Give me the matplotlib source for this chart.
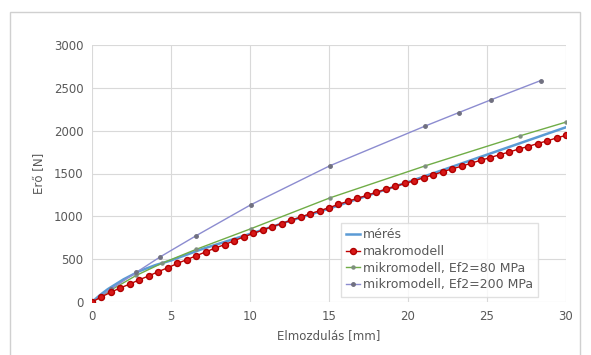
import matplotlib
matplotlib.use("Agg")
import matplotlib.pyplot as plt
from matplotlib.patches import Rectangle

# mérés
meres_x = [0, 0.5, 1, 2, 3, 4, 5, 7, 10, 12.5, 15, 17.5, 20, 22.5, 25, 27.5, 30]
meres_y = [0, 80, 150, 265, 360, 430, 485, 620, 795, 945, 1090, 1245, 1400, 1560, 1720, 1880, 2040]

# makromodell
makro_x = [0, 0.6, 1.2, 1.8, 2.4, 3.0, 3.6, 4.2, 4.8, 5.4, 6.0, 6.6, 7.2, 7.8, 8.4, 9.0, 9.6,
           10.2, 10.8, 11.4, 12.0, 12.6, 13.2, 13.8, 14.4, 15.0, 15.6, 16.2, 16.8, 17.4, 18.0,
           18.6, 19.2, 19.8, 20.4, 21.0, 21.6, 22.2, 22.8, 23.4, 24.0, 24.6, 25.2, 25.8, 26.4,
           27.0, 27.6, 28.2, 28.8, 29.4, 30.0]
makro_y = [0, 60, 115, 165, 210, 260, 305, 355, 400, 450, 495, 540, 585, 630, 670, 715, 760,
           800, 840, 880, 915, 955, 990, 1030, 1065, 1100, 1140, 1175, 1210, 1245, 1280,
           1315, 1350, 1385, 1415, 1450, 1485, 1520, 1555, 1585, 1620, 1655, 1685, 1720, 1750,
           1785, 1815, 1850, 1880, 1915, 1945]

# mikromodell, Ef2=80 MPa
mik80_x = [0, 1.2, 2.8, 4.4, 6.6, 10.05, 15.05, 21.1, 27.1, 30]
mik80_y = [0, 140, 310, 450, 615, 855, 1215, 1590, 1940, 2100]

# mikromodell, Ef2=200 MPa
mik200_x = [0, 1.2, 2.8, 4.3, 6.6, 10.05, 15.05, 21.1, 23.2, 25.25, 28.4]
mik200_y = [0, 150, 345, 525, 775, 1135, 1590, 2055, 2210, 2360, 2585]

plt.rcParams['font.family'] = ['DejaVu Sans']
fig = plt.figure(figsize=(5.91, 3.55), dpi=100)
fig.patches.append(Rectangle((10 / 591, -0.01), 570 / 591, 1 - 12 / 355 + 0.01,
                             transform=fig.transFigure, fill=False,
                             edgecolor='#D0D0D0', linewidth=1))
ax = fig.add_axes([92 / 591, 1 - 302 / 355, 474 / 591, 257 / 355])

ax.plot(meres_x, meres_y, color='#5B9BD5', lw=1.8, label='mérés', zorder=2)
ax.plot(makro_x, makro_y, color='#C00000', lw=1.0, marker='o', ms=4.3,
        markerfacecolor='#D81818', markeredgecolor='#B00000', label='makromodell', zorder=3)
ax.plot(mik80_x, mik80_y, color='#70AD47', lw=1.0, marker='o', ms=2.2,
        markerfacecolor='#7F8F7F', markeredgecolor='#7F8F7F',
        label='mikromodell, Ef2=80 MPa', zorder=2)
ax.plot(mik200_x, mik200_y, color='#8C8CD0', lw=1.0, marker='o', ms=2.5,
        markerfacecolor='#707080', markeredgecolor='#707080',
        label='mikromodell, Ef2=200 MPa', zorder=2)

ax.set_xlim(0, 30)
ax.set_ylim(0, 3000)
ax.set_xticks(range(0, 31, 5))
ax.set_yticks(range(0, 3001, 500))
ax.grid(True, color='#D9D9D9', lw=0.8)
ax.set_axisbelow(True)
for s in ax.spines.values():
    s.set_visible(False)
ax.tick_params(length=0, labelsize=8.5, labelcolor='#595959', pad=6)
ax.set_xlabel('Elmozdulás [mm]', fontsize=8.5, color='#595959', labelpad=4)
ax.set_ylabel('Erő [N]', fontsize=8.5, color='#595959', labelpad=6)

leg = ax.legend(loc='lower right', bbox_to_anchor=(0.955, -0.005), fontsize=9,
                frameon=True, fancybox=False, edgecolor='#D9D9D9',
                handlelength=1.1, handletextpad=0.2, borderpad=0.45, labelspacing=0.3)
for t in leg.get_texts():
    t.set_color('#595959')

fig.savefig('out.png', dpi=100)
